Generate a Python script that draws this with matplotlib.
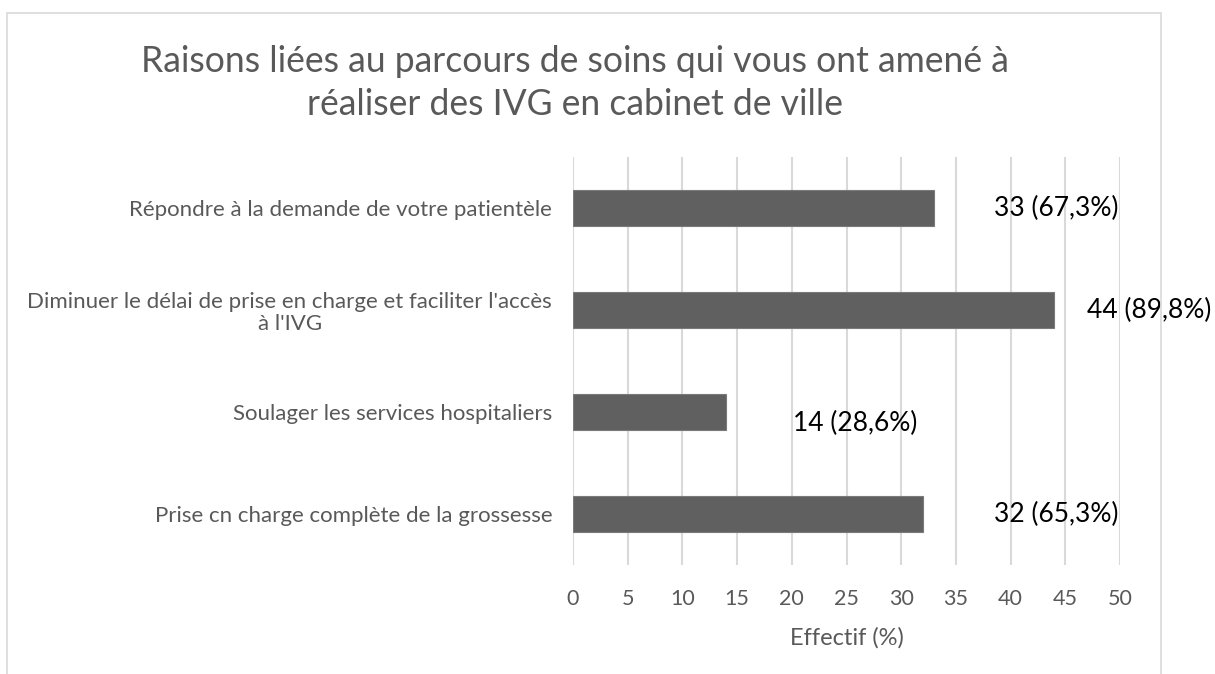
import matplotlib
matplotlib.use('Agg')
import matplotlib.pyplot as plt
from matplotlib.patches import Rectangle

# Data (top to bottom as shown)
categories = [
    "Répondre à la demande de votre patientèle",
    "Diminuer le délai de prise en charge et faciliter l'accès\nà l'IVG",
    "Soulager les services hospitaliers",
    "Prise cn charge complète de la grossesse",
]
counts = [33, 44, 14, 32]
percents = ["67,3", "89,8", "28,6", "65,3"]

title = "Raisons liées au parcours de soins qui vous ont amené à\nréaliser des IVG en cabinet de ville"
xlabel = "Effectif (%)"
xticks = list(range(0, 51, 5))

# Layout / style
GREY_TXT = '#595959'
GRID = '#d9d9d9'
BAR = '#606060'
label_dx = [11.2, 8.7, 11.8, 12.2]   # hand placed data labels (data units)
label_dy = [0.0, 0.0, 0.11, 0.0]     # (category units, positive = down)

plt.rcParams['font.family'] = ['Lato', 'DejaVu Sans']

fig = plt.figure(figsize=(12.15, 6.74), dpi=100)
W, H = 1215, 674

# chart area border
fig.patches.append(Rectangle((7 / W, -0.05), (1161 - 7) / W, 1.05 - 13 / H,
                             transform=fig.transFigure, fill=False,
                             edgecolor=GRID, linewidth=1.2))

ax = fig.add_axes([573 / W, 1 - 565 / H, (1120 - 573) / W, (565 - 157) / H])

ypos = list(range(len(categories)))
ax.barh(ypos, counts, height=0.35, color=BAR, edgecolor='#7a7a7a', linewidth=0.8, zorder=3)

ax.set_ylim(len(categories) - 0.5, -0.5)
ax.set_xlim(0, 50)
ax.set_xticks(xticks)
ax.set_yticks(ypos)
ax.set_yticklabels(categories, multialignment='center', linespacing=1.15)
ax.tick_params(axis='both', length=0, colors=GREY_TXT)
ax.tick_params(axis='x', labelsize=15.5, pad=17)
ax.tick_params(axis='y', labelsize=16, pad=15)
ax.grid(axis='x', color=GRID, linewidth=1.5, zorder=0)
for s in ax.spines.values():
    s.set_visible(False)

ax.set_xlabel(xlabel, fontsize=17, color=GREY_TXT, labelpad=13)

for i, (n, p) in enumerate(zip(counts, percents)):
    ax.text(n + label_dx[i], i + label_dy[i], f"{n} ({p}%)", ha='center', va='center',
            fontsize=19, color='black', clip_on=False, zorder=4)

fig.text(575 / W, 1 - 83 / H, title, ha='center', va='center', fontsize=25.6,
         color=GREY_TXT, linespacing=1.35)

fig.savefig("out.png", dpi=100)
